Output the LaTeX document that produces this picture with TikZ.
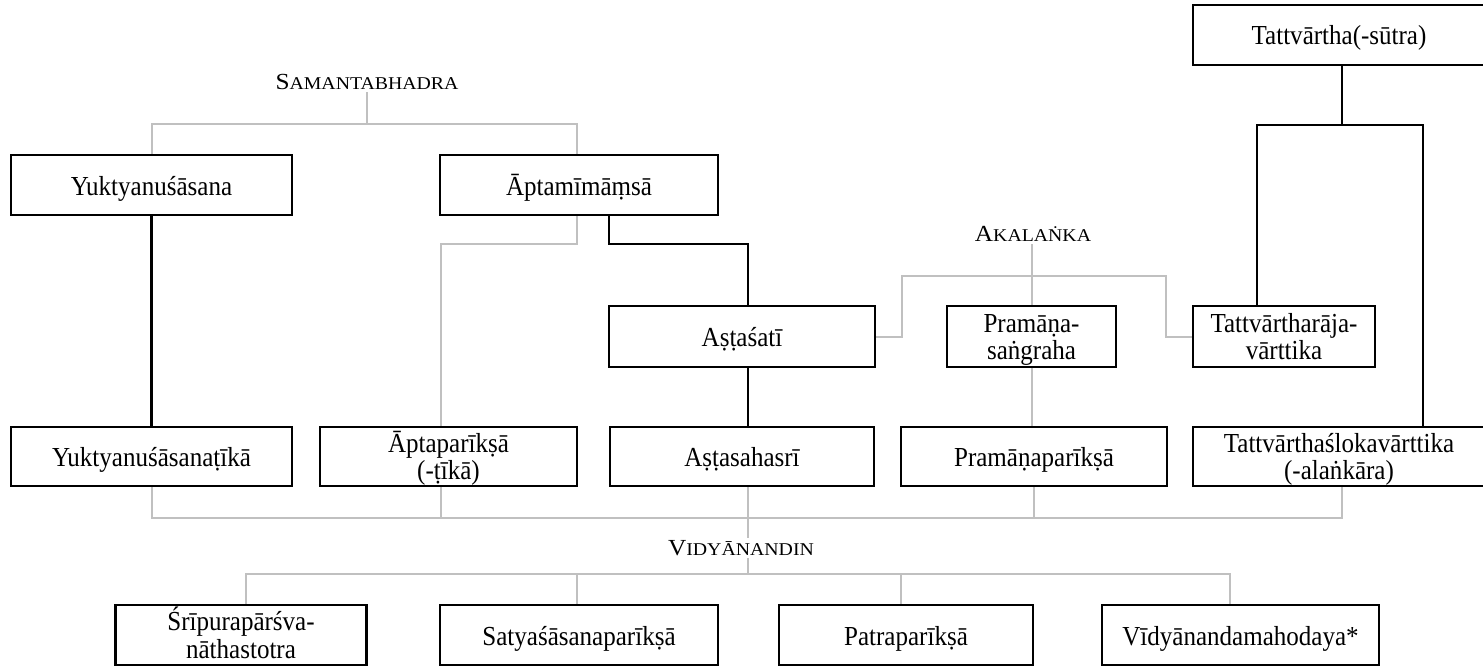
\documentclass[tikz,border=0pt]{standalone}
\usepackage{fontspec}
\setmainfont{Liberation Serif}[FakeStretch=0.91]
\newfontfamily\labfont{Liberation Serif}[FakeStretch=1.1]
\definecolor{lgray}{RGB}{192,192,192}
\newcommand\fsc[2]{{\labfont\fontsize{23}{23}\selectfont #1}{\labfont\fontsize{18}{18}\selectfont #2}}
\newcommand\bt[1]{\smash{\raisebox{-10pt}{#1}}}
\newcommand\bb[2]{\smash{\raisebox{-23pt}{\begin{tabular}[b]{@{}c@{}}#1\\#2\end{tabular}}}}
\begin{document}
\begin{tikzpicture}[x=1pt,y=-1pt,
  box/.style={draw=black,line width=2.6pt,inner sep=0pt,minimum height=60pt,font=\fontsize{27.5}{27}\selectfont},
  blk/.style={draw=black,line width=2.3pt},
  gry/.style={draw=lgray,line width=2pt},
  lab/.style={inner sep=2.5pt}]
\useasboundingbox (0,0) rectangle (1483,666);
% row 1
\node[box,minimum width=281pt] (yuk) at (151.5,185) {\bt{Yuktyanuśāsana}};
\node[box,minimum width=278pt] (apt) at (579,185) {\bt{Āptamīmāṃsā}};
\node[box,minimum width=292pt] (tat) at (1339,35) {\bt{Tattvārtha(-sūtra)}};
% row 2
\node[box,minimum width=266pt,minimum height=61pt] (ast) at (742,336.5) {\bt{Aṣṭaśatī}};
\node[box,minimum width=169pt,minimum height=61pt] (prs) at (1031.5,336.5) {\bb{Pramāṇa-}{saṅgraha}};
\node[box,minimum width=182pt,minimum height=61pt] (trv) at (1284,336.5) {\bb{Tattvārtharāja-}{vārttika}};
% row 3
\node[box,minimum width=281pt,minimum height=59pt] (yukt) at (151.5,456.5) {\bt{Yuktyanuśāsanaṭīkā}};
\node[box,minimum width=257pt,minimum height=59pt] (aptp) at (448.5,456.5) {\bb{Āptaparīkṣā}{(-ṭīkā)}};
\node[box,minimum width=264pt,minimum height=59pt] (asth) at (742,456.5) {\bt{Aṣṭasahasrī}};
\node[box,minimum width=266pt,minimum height=59pt] (prp) at (1034,456.5) {\bt{Pramāṇaparīkṣā}};
\node[box,minimum width=292pt,minimum height=59pt] (tsv) at (1339,456.5) {\bb{Tattvārthaślokavārttika}{(-alaṅkāra)}};
% row 4
\node[box,minimum width=251pt] (sri) at (241,635) {\bb{Śrīpurapārśva-}{nāthastotra}};
\node[box,minimum width=278pt] (sat) at (579,635) {\bt{Satyaśāsanaparīkṣā}};
\node[box,minimum width=254pt] (pat) at (906,635) {\bt{Patraparīkṣā}};
\node[box,minimum width=277pt] (vidm) at (1240.5,635) {\bt{Vīdyānandamahodaya*}};
% labels
\node[lab] (sam) at (367,82) {\fsc{S}{AMANTABHADRA}};
\node[lab] (aka) at (1033,234) {\fsc{A}{KALAṄKA}};
\node[lab] (vidl) at (741,548) {\fsc{V}{IDYĀNANDIN}};
% Samantabhadra
\draw[gry] (yuk.north) -- ++(0,-30) coordinate (s1) -| ([xshift=-2]apt.north);
\draw[gry] (sam.south) -- (sam.south |- s1);
\draw[gry] ([xshift=-2]apt.south) -- ++(0,28) -| ([xshift=-7.5]aptp.north);
\draw[blk] ([xshift=30]apt.south) -- ++(0,28) -| ([xshift=6]ast.north);
\draw[blk] (yuk.south) -- (yukt.north);
\draw[blk] ([xshift=6]ast.south) -- ([xshift=6]asth.north);
% Akalanka
\draw[gry] ([xshift=-1]aka.south) -- ([xshift=-1]aka.south |- prs.north);
\draw[gry] (ast.east) -| ++(26,-60.5) -| ([xshift=-26]trv.west) -- (trv.west);
\draw[gry] (prs.south) -- (prs.south |- prp.north);
% Tattvartha
\draw[blk] ([xshift=-27]trv.north) -- ++(0,-180) coordinate (t1) -| ([xshift=84]tsv.north);
\draw[blk] ([xshift=3]tat.south) -- ([xshift=3]tat.south |- t1);
% Vidyanandin
\draw[gry] (yukt.south) -- ++(0,31) coordinate (b1) -| ([xshift=3]tsv.south);
\draw[gry] ([xshift=-7.5]aptp.south) -- ([xshift=-7.5]aptp.south |- b1);
\draw[gry] ([xshift=6]asth.south) -- ([xshift=7]vidl.north);
\draw[gry] (prp.south) -- (prp.south |- b1);
\draw[gry] ([xshift=5]sri.north) -- ++(0,-30) coordinate (b2) -| ([xshift=-10.5]vidm.north);
\draw[gry] ([xshift=7]vidl.south) -- ([xshift=7]vidl.south |- b2);
\draw[gry] ([xshift=-2]sat.north) -- ([xshift=-2]sat.north |- b2);
\draw[gry] ([xshift=-5]pat.north) -- ([xshift=-5]pat.north |- b2);
\end{tikzpicture}
\end{document}
